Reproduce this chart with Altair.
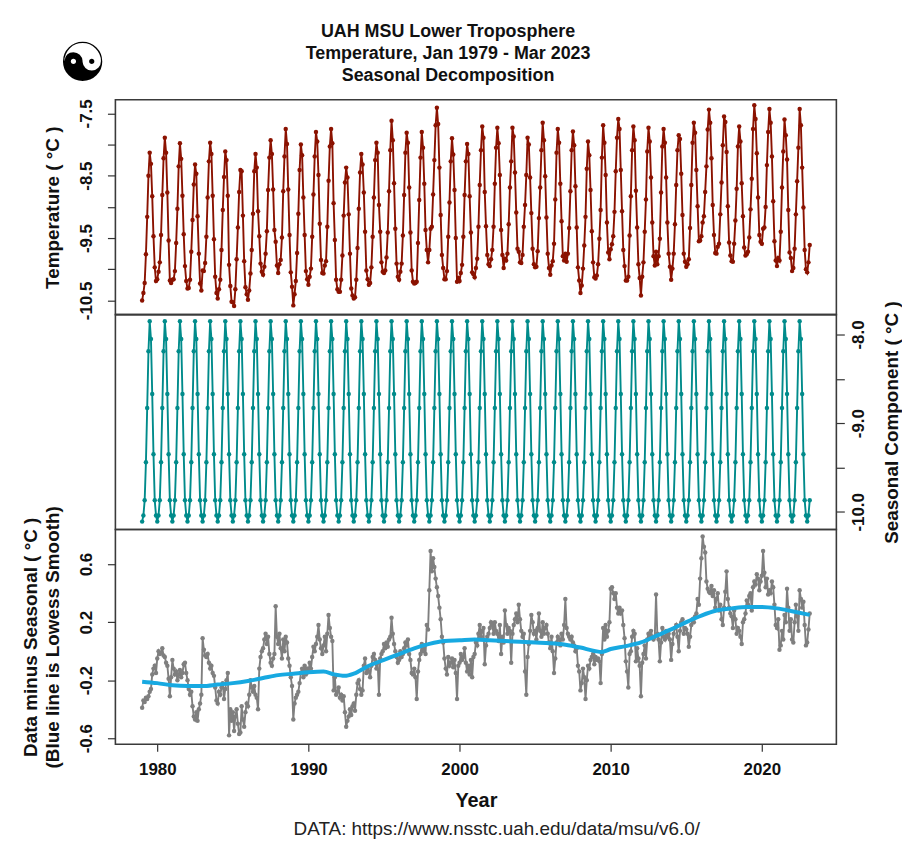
import altair as alt
import pandas as pd

# ---------------- data ----------------
seasonal_by_month = [-10.11, -10.04, -9.87, -9.44, -8.83, -8.19,
                     -7.85, -8.05, -8.67, -9.35, -9.87, -10.04]

anom_1979_1989 = [
    -0.39, -0.34, -0.35, -0.32, -0.33, -0.31, -0.28, -0.26, -0.16, -0.12, -0.10, -0.15,
    -0.05, 0.00, -0.02, -0.01, 0.02, -0.03, -0.04, -0.08, -0.10, -0.19, -0.31, -0.18,
    -0.06, -0.12, -0.16, -0.14, -0.20, -0.16, -0.13, -0.18, -0.15, -0.09, -0.08, -0.15,
    -0.20, -0.26, -0.30, -0.28, -0.38, -0.45, -0.47, -0.42, -0.48, -0.40, -0.36, -0.30,
    0.09, 0.01, -0.03, -0.04, -0.02, -0.08, -0.12, -0.10, -0.15, -0.17, -0.25, -0.34,
    -0.36, -0.28, -0.30, -0.25, -0.22, -0.33, -0.26, -0.20, -0.15, -0.58, -0.40, -0.48,
    -0.42, -0.55, -0.45, -0.40, -0.50, -0.57, -0.56, -0.38, -0.47, -0.52, -0.42, -0.36,
    -0.38, -0.30, -0.20, -0.25, -0.28, -0.24, -0.30, -0.32, -0.40, -0.12, -0.04, 0.00,
    0.02, 0.08, 0.12, 0.05, 0.10, -0.02, -0.08, -0.10, -0.05, -0.02, 0.31, 0.10,
    0.05, 0.12, 0.02, -0.05, 0.08, 0.00, 0.10, 0.06, -0.05, -0.10, -0.18, -0.24,
    -0.47, -0.36, -0.32, -0.30, -0.28, -0.22, -0.15, -0.12, -0.18, -0.10, -0.16, -0.12,
]
anom_1990_1999 = [
    -0.14, -0.08, -0.12, -0.04, 0.03, 0.00, 0.05, 0.10, 0.18, 0.08, 0.02, -0.02,
    0.04, 0.10, 0.00, 0.12, 0.25, 0.16, 0.10, 0.07, -0.27, -0.18, -0.30, -0.28,
    -0.25, -0.32, -0.30, -0.34, -0.31, -0.42, -0.52, -0.48, -0.45, -0.40, -0.44, -0.38,
    -0.36, -0.41, -0.30, -0.22, -0.20, -0.26, -0.30, -0.27, -0.10, -0.05, -0.15, -0.12,
    -0.14, -0.18, -0.10, -0.04, -0.02, -0.06, -0.12, -0.08, -0.30, -0.05, -0.02, 0.00,
    0.05, 0.02, 0.06, 0.03, 0.08, 0.10, 0.23, 0.12, 0.05, 0.00, -0.04, -0.08,
    -0.06, 0.00, -0.04, -0.02, 0.02, 0.06, 0.04, 0.08, -0.02, -0.06, -0.15, -0.16,
    -0.12, -0.18, -0.33, -0.14, -0.06, -0.02, 0.05, 0.00, 0.04, -0.02, 0.18, 0.15,
    0.42, 0.69, 0.55, 0.64, 0.58, 0.50, 0.44, 0.38, 0.30, 0.22, 0.10, 0.06,
    -0.05, -0.12, -0.16, -0.04, -0.10, -0.08, -0.05, -0.11, -0.06, -0.15, -0.33, -0.10,
]
anom_2000_2009 = [
    -0.08, -0.02, -0.06, -0.04, 0.02, -0.08, -0.14, -0.10, -0.16, -0.06, -0.18, -0.04,
    -0.02, 0.06, 0.04, 0.12, 0.18, 0.10, 0.14, 0.16, -0.09, 0.04, 0.10, 0.12,
    0.16, 0.20, 0.18, 0.12, 0.20, 0.14, 0.12, 0.07, 0.18, -0.02, 0.10, 0.06,
    0.28, 0.18, 0.12, 0.16, 0.14, -0.08, 0.12, 0.18, 0.22, 0.26, 0.20, 0.32,
    0.22, 0.14, 0.10, 0.12, -0.14, -0.30, -0.04, 0.05, 0.14, 0.25, 0.20, 0.12,
    0.14, 0.08, 0.16, 0.26, 0.14, 0.10, 0.20, 0.12, 0.16, 0.18, 0.12, 0.06,
    0.02, 0.10, 0.00, -0.15, -0.05, 0.06, 0.10, 0.08, 0.04, 0.12, 0.08, 0.18,
    0.36, 0.16, 0.12, 0.10, 0.08, 0.10, 0.06, 0.04, 0.00, 0.02, -0.10, -0.14,
    -0.27, -0.22, -0.12, -0.18, -0.33, -0.20, -0.10, -0.12, -0.06, -0.04, -0.02, -0.09,
    -0.04, -0.06, -0.05, -0.07, -0.22, -0.02, 0.16, 0.08, 0.18, 0.10, 0.14, 0.20,
]
anom_2010_2019 = [
    0.43, 0.44, 0.40, 0.36, 0.40, 0.30, 0.26, 0.30, 0.26, 0.28, 0.18, 0.09,
    -0.07, -0.14, -0.25, -0.02, 0.00, 0.10, 0.14, 0.12, -0.07, 0.02, -0.05, -0.10,
    -0.31, -0.08, -0.02, 0.04, -0.05, 0.08, 0.12, 0.10, 0.14, 0.10, 0.08, 0.10,
    0.39, 0.12, 0.08, -0.07, 0.06, 0.16, 0.10, 0.08, 0.14, 0.10, 0.12, 0.08,
    -0.06, 0.05, 0.12, 0.16, 0.18, 0.10, 0.00, 0.14, 0.20, 0.22, 0.12, 0.16,
    0.15, 0.12, 0.03, 0.10, 0.18, 0.22, 0.20, 0.24, 0.26, 0.36, 0.32, 0.50,
    0.64, 0.79, 0.72, 0.68, 0.48, 0.43, 0.41, 0.40, 0.45, 0.38, 0.42, 0.30,
    0.36, 0.40, 0.28, 0.32, 0.22, 0.18, 0.30, 0.41, 0.55, 0.36, 0.30, 0.26,
    0.24, 0.16, 0.28, 0.22, 0.12, 0.16, 0.14, 0.10, 0.05, 0.20, 0.22, 0.26,
    0.35, 0.32, 0.38, 0.40, 0.28, 0.44, 0.48, 0.46, 0.53, 0.50, 0.42, 0.48,
]
anom_2020_2023 = [
    0.52, 0.69, 0.54, 0.44, 0.50, 0.39, 0.42, 0.40, 0.48, 0.44, 0.32, 0.18,
    0.16, 0.22, 0.01, 0.04, 0.14, 0.08, 0.25, 0.20, 0.43, 0.30, 0.14, 0.22,
    0.08, 0.06, 0.20, 0.32, 0.24, 0.14, 0.42, 0.36, 0.30, 0.34, 0.18, 0.04,
    0.06, 0.15, 0.26,
]

smooth_years = [1979.0, 1980, 1981, 1982, 1983, 1984, 1985, 1986, 1987, 1988, 1989,
                1990, 1991, 1991.7, 1992.4, 1993, 1994, 1995, 1996, 1997, 1998, 1999,
                2000, 2001, 2002, 2003, 2004, 2005, 2006, 2007, 2008, 2009, 2009.4,
                2010, 2011, 2012, 2013, 2014, 2015, 2016, 2017, 2018, 2019, 2020,
                2021, 2022, 2023.17]
smooth_values = [-0.21, -0.22, -0.235, -0.24, -0.24, -0.23, -0.22, -0.205, -0.185, -0.165, -0.155,
                 -0.145, -0.14, -0.16, -0.17, -0.155, -0.10, -0.06, -0.02, 0.02, 0.05, 0.07,
                 0.075, 0.08, 0.075, 0.07, 0.065, 0.06, 0.055, 0.045, 0.025, 0.00, -0.005,
                 0.015, 0.035, 0.06, 0.105, 0.15, 0.20, 0.245, 0.28, 0.295, 0.305, 0.305,
                 0.295, 0.275, 0.25]

x_ticks = [1980, 1990, 2000, 2010, 2020]
top_ticks = [-10.5, -10.0, -9.5, -9.0, -8.5, -8.0, -7.5]
mid_ticks = [-10.0, -9.5, -9.0, -8.5, -8.0]
bot_ticks = [-0.6, -0.4, -0.2, 0.0, 0.2, 0.4, 0.6, 0.8]

title_lines = ["UAH MSU Lower Troposphere", "Temperature, Jan 1979 - Mar 2023",
               "Seasonal Decomposition"]
caption = "DATA: https://www.nsstc.uah.edu/data/msu/v6.0/"

# ---------------- table ----------------
anomaly = anom_1979_1989 + anom_1990_1999 + anom_2000_2009 + anom_2010_2019 + anom_2020_2023
rows = []
for i, a in enumerate(anomaly):
    m = i % 12
    t = 1979 + i // 12 + m / 12
    s = seasonal_by_month[m]
    rows.append({"t": t, "seasonal": s, "anomaly": a, "temp": round(s + a, 3)})
df = pd.DataFrame(rows)
smooth_df = pd.DataFrame({"t": smooth_years, "smooth": smooth_values})

FONT = "Liberation Sans"
W, H = 725, 216
xscale = alt.Scale(domain=[1977.23, 2024.93], nice=False, zero=False)
MINUS = "replace(format(datum.value, '.1f'), '\u2212', '-')"


def series(field, color, yscale, yaxis, xaxis=None):
    return alt.Chart(df).mark_line(
        color=color, strokeWidth=1.9,
        point=alt.OverlayMarkDef(color=color, filled=True, size=20, opacity=1),
    ).encode(
        x=alt.X("t:Q", scale=xscale, axis=xaxis),
        y=alt.Y(f"{field}:Q", scale=yscale, axis=yaxis),
    )


left_common = dict(orient="left", labelAngle=270, labelAlign="center",
                   labelBaseline="bottom", tickSize=8, labelPadding=12,
                   titlePadding=15, labelOverlap=False, labelFlush=False)

top_axis = alt.Axis(values=top_ticks, title="Temperature ( \u00b0C )",
                    labelExpr=f"abs(round(datum.value*2)) % 2 == 1 ? {MINUS} : ''",
                    **left_common)
top = alt.layer(
    series("temp", "#8B1200", alt.Scale(domain=[-10.728, -7.283], nice=False, zero=False), top_axis),
    alt.Chart(pd.DataFrame({"logo": ["\u262f"]})).mark_text(
        font="DejaVu Sans", fontSize=54, color="black", align="center", baseline="middle"
    ).encode(text="logo:N", x=alt.value(-33), y=alt.value(-35)),
).properties(width=W, height=H)

mid_axis = alt.Axis(orient="right", values=mid_ticks, title="Seasonal Component ( \u00b0C )",
                    labelExpr=f"datum.value % 1 == 0 ? {MINUS} : ''",
                    labelAngle=270, labelAlign="center", labelBaseline="top",
                    tickSize=8, labelPadding=6, titleAngle=270, titleBaseline="top",
                    titlePadding=16, labelOverlap=False, labelFlush=False)
mid = series("seasonal", "#008B8B",
             alt.Scale(domain=[-10.198, -7.776], nice=False, zero=False),
             mid_axis).properties(width=W, height=H)

bot_axis = alt.Axis(values=bot_ticks,
                    title=["Data minus Seasonal ( \u00b0C )", "(Blue line is Lowess Smooth)"],
                    titleLineHeight=22,
                    labelExpr=f"abs(round(datum.value*10)) % 4 == 2 ? {MINUS} : ''",
                    **left_common)
x_axis = alt.Axis(values=x_ticks, format="d", title="Year", titleFontSize=20,
                  tickSize=7, labelPadding=10, titlePadding=14, labelFlush=False,
                  labelOverlap=False)
bscale = alt.Scale(domain=[-0.641, 0.839], nice=False, zero=False)
bot = alt.layer(
    series("anomaly", "#7f7f7f", bscale, bot_axis, x_axis),
    alt.Chart(smooth_df).mark_line(color="#17a9e1", strokeWidth=4, interpolate="monotone").encode(
        x=alt.X("t:Q", scale=xscale),
        y=alt.Y("smooth:Q", scale=bscale),
    ),
).properties(
    width=W, height=H,
    title=alt.TitleParams(caption, orient="bottom", anchor="middle", frame="group",
                          font=FONT, fontSize=19, fontWeight="normal", color="#222",
                          dx=21, offset=9),
)

chart = alt.vconcat(top, mid, bot, spacing=0, bounds="flush").properties(
    title=alt.TitleParams(title_lines, font=FONT, fontSize=18, fontWeight="bold",
                          lineHeight=22, anchor="middle", frame="group", dx=-28,
                          offset=-48, color="#111"),
    padding={"left": 13, "top": 13, "right": 0, "bottom": 2},
).configure_view(
    stroke="#3a3a3a", strokeWidth=1.6
).configure_axis(
    labelFont=FONT, titleFont=FONT, labelFontWeight="bold", titleFontWeight="bold",
    labelFontSize=17, titleFontSize=19, labelColor="#111", titleColor="#111",
    tickColor="#333", tickWidth=1.2, domain=False, grid=False,
)

chart.save("out.html", embed_options={"renderer": "svg", "actions": False})
